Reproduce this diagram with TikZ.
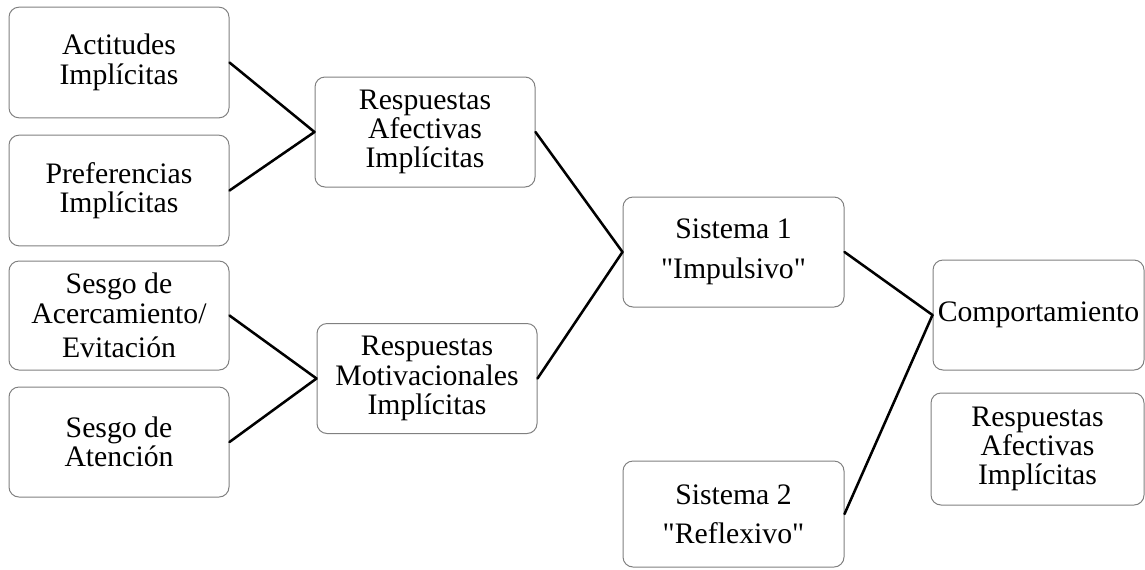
\documentclass[tikz,border=0pt]{standalone}
\usepackage{fontspec}
\setmainfont{Liberation Serif}
\usepackage{tikz}

\begin{document}
\begin{tikzpicture}[x=0.75pt,y=-0.75pt,
    caja/.style={draw=gray, line width=0.75pt, rounded corners=7.5pt, align=center,
      inner sep=0pt, minimum width=165pt, minimum height=82.5pt,
      font=\fontsize{22.3}{22}\selectfont},
    enlace/.style={line width=1.9pt, line cap=round}]
        % Figura 1
        \useasboundingbox (0,0) rectangle (1145,569);
        \node[caja, minimum height=83pt] (actitudes) at (119,62.5) {Actitudes\\Implícitas};
        \node[caja, minimum height=83pt] (preferencias) at (119,190.5) {Preferencias\\Implícitas};
        \node[caja, minimum height=81.75pt] (acercamiento) at (119,315.5) {Sesgo de\\Acercamiento/\\[4pt]Evitación};
        \node[caja] (atencion) at (119,442) {Sesgo de\\Atención};
        \node[caja] (afectivas) at (425,132) {Respuestas\\Afectivas\\Implícitas};
        \node[caja] (motivacionales) at (427,378.5) {Respuestas\\Motivacionales\\Implícitas};
        \node[caja, minimum width=165.75pt] (sistemauno) at (733.5,252) {Sistema 1\\[8pt]\textquotedbl Impulsivo\textquotedbl};
        \node[caja, minimum width=165.75pt, minimum height=79.5pt] (sistemados) at (733.5,514) {Sistema 2\\[7pt]\textquotedbl Reflexivo\textquotedbl};
        \node[caja, minimum width=158.25pt] (comportamiento) at (1038.5,315) {Comportamiento};
        \node[caja, minimum width=159.75pt, minimum height=84pt] (afectivasdos) at (1037.5,449) {Respuestas\\Afectivas\\Implícitas};
        \draw[enlace] (actitudes.east) -- (afectivas.west);
        \draw[enlace] (preferencias.east) -- (afectivas.west);
        \draw[enlace] (acercamiento.east) -- (motivacionales.west);
        \draw[enlace] (atencion.east) -- (motivacionales.west);
        \draw[enlace] (afectivas.east) -- (sistemauno.west);
        \draw[enlace] (motivacionales.east) -- (sistemauno.west);
        \draw[enlace] (sistemauno.east) -- (comportamiento.west);
        \draw[enlace] (sistemados.east) -- (comportamiento.west);
    \end{tikzpicture}
\end{document}
